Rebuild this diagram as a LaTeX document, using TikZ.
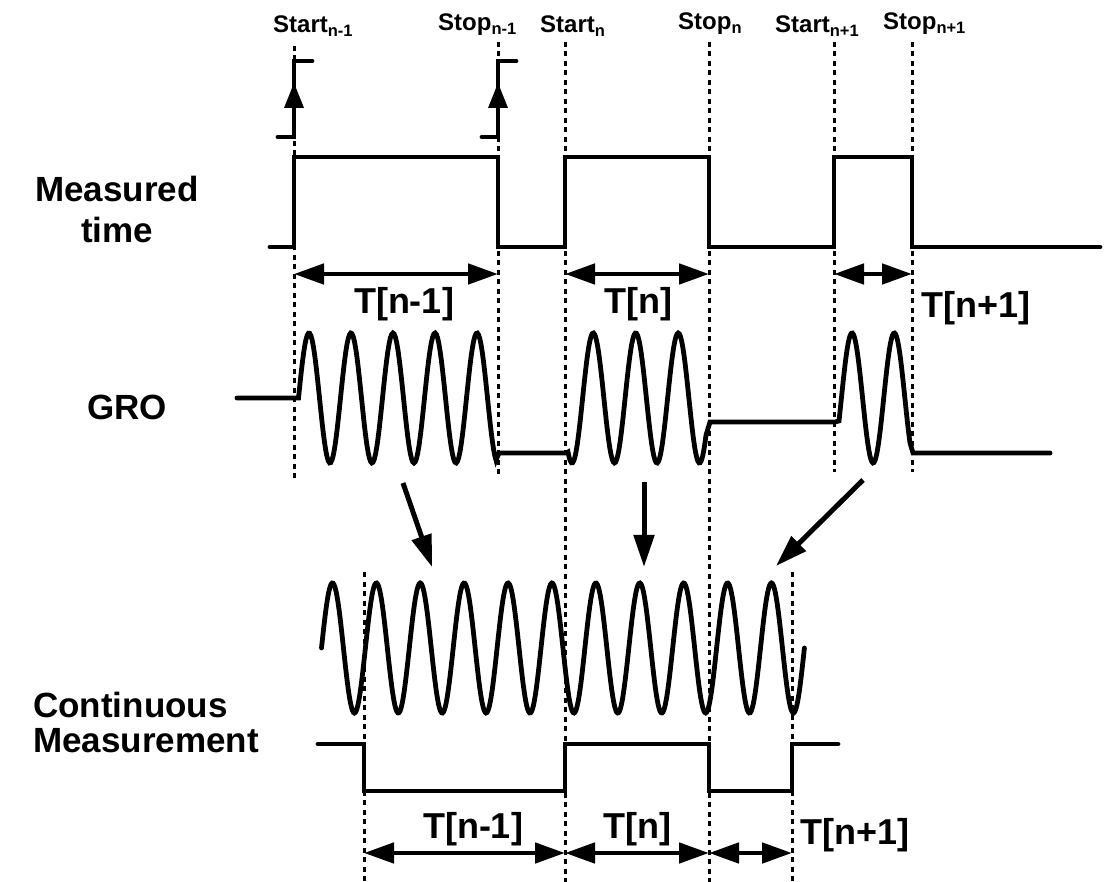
\documentclass[tikz,border=0pt]{standalone}
\usepackage{fontspec}
\setmainfont{Liberation Sans}
\usetikzlibrary{arrows.meta}
\newcommand{\mysub}[1]{\raisebox{-4pt}{\fontsize{16.5}{17}\selectfont #1}}
\begin{document}
\begin{tikzpicture}[x=1pt,y=-1pt,
  sig/.style={line width=4.8pt, line cap=round, line join=miter},
  guide/.style={line width=3pt, dash pattern=on 5pt off 4.5pt},
  dim/.style={line width=4.8pt, {Triangle[length=30pt,width=20pt]}-{Triangle[length=30pt,width=20pt]}},
  flow/.style={line width=5pt, -{Triangle[length=32pt,width=20pt]}},
  lbl/.style={font=\fontsize{35}{41}\selectfont\bfseries, inner sep=0pt},
  tlbl/.style={font=\fontsize{36}{40}\selectfont\bfseries, inner sep=0pt, anchor=base},
  tick/.style={font=\fontsize{24}{28}\selectfont\bfseries, inner sep=0pt, anchor=base west}
]
\useasboundingbox (0,0) rectangle (1104,882);

% ---- guide lines
\coordinate (a1) at (294,46);  \coordinate (a1b) at (294,480);
\coordinate (b1) at (498,42);  \coordinate (b1b) at (498,474);
\coordinate (a2) at (565,42);  \coordinate (a2b) at (565,882);
\coordinate (b2) at (709,42);  \coordinate (b2b) at (709,882);
\coordinate (a3) at (834,42);  \coordinate (a3b) at (834,472);
\coordinate (b3) at (912,42);  \coordinate (b3b) at (912,472);
\coordinate (c1) at (364,572); \coordinate (c1b) at (364,882);
\coordinate (c3) at (792,572); \coordinate (c3b) at (792,882);
\foreach \p/\q in {a1/a1b,b1/b1b,a2/a2b,b2/b2b,a3/a3b,b3/b3b,c1/c1b,c3/c3b}
  \draw[guide] (\p) -- (\q);

% ---- top labels
\node[tick] (lsa1) at (273,33) {Start\mysub{n-1}};
\node[tick] (lso1) at (438,31) {Stop\mysub{n-1}};
\node[tick] (lsa2) at (540,33) {Start\mysub{n}};
\node[tick] (lso2) at (678,30) {Stop\mysub{n}};
\node[tick] (lsa3) at (775,33) {Start\mysub{n+1}};
\node[tick] (lso3) at (883,30) {Stop\mysub{n+1}};

% ---- step icons
\draw[sig] (278,137) -- (294,137) -- (294,61) -- (312,61);
\fill (294,83) -- (284,108) -- (304,108) -- cycle;
\draw[sig] (482,137) -- (498,137) -- (498,61) -- (516,61);
\fill (498,83) -- (488,108) -- (508,108) -- cycle;

% ---- measured time
\node[lbl, align=center, anchor=base] (mt) at (117,243) {Measured\\time};
\draw[sig] (270,247) -- (294,247) -- (294,157) -- (498,157) -- (498,247)
  -- (565,247) -- (565,157) -- (709,157) -- (709,247) -- (834,247)
  -- (834,157) -- (912,157) -- (912,247) -- (1100,247);

\coordinate (d1l) at (294,274); \coordinate (d1r) at (498,274);
\coordinate (d2l) at (565,274); \coordinate (d2r) at (709,274);
\coordinate (d3l) at (834,274); \coordinate (d3r) at (912,274);
\draw[dim] (d1l) -- (d1r);
\draw[dim] (d2l) -- (d2r);
\draw[dim] (d3l) -- (d3r);
\node[tlbl] (t1) at (404,314) {T[n-1]};
\node[tlbl] (t2) at (638,314) {T[n]};
\node[tlbl] (t3) at (976,318) {T[n+1]};

% ---- GRO
\node[lbl, anchor=base] (gro) at (127,420) {GRO};
\draw[sig] (237,398) -- (296,398)
  -- plot[domain=298.5:496, samples=160] (\x, {398-65*cos(8.5714*(\x-309))})
  -- (499,453) -- (566,453)
  -- plot[domain=568:706, samples=120] (\x, {398+65*cos(8.4706*(\x-572))})
  -- (710,422) -- (835,422)
  -- plot[domain=839:910, samples=70] (\x, {398-65*cos(8.5106*(\x-852))})
  -- (913,453) -- (1050,453);

% ---- flow arrows
\coordinate (f1s) at (403,483); \coordinate (f1e) at (432,567);
\coordinate (f2s) at (644,482); \coordinate (f2e) at (644,567);
\coordinate (f3s) at (863,480); \coordinate (f3e) at (776,566);
\draw[flow] (f1s) -- (f1e);
\draw[flow] (f2s) -- (f2e);
\draw[flow] (f3s) -- (f3e);

% ---- continuous
\draw[sig] plot[domain=321.5:804.4, samples=500] (\x, {648-65*sin(8.2005*(\x-321.5))});
\node[lbl, align=left, anchor=base west, font=\fontsize{35}{35}\selectfont\bfseries] (cm) at (33,752) {Continuous\\Measurement};
\draw[sig] (318,744) -- (364,744) -- (364,791) -- (565,791) -- (565,744)
  -- (709,744) -- (709,791) -- (792,791) -- (792,744) -- (838,744);

\coordinate (e1l) at (364,853); \coordinate (e1r) at (565,853);
\coordinate (e2l) at (565,853); \coordinate (e2r) at (709,853);
\coordinate (e3l) at (709,853); \coordinate (e3r) at (792,853);
\draw[dim] (e1l) -- (e1r);
\draw[dim] (e2l) -- (e2r);
\draw[dim] (e3l) -- (e3r);
\node[tlbl] (u1) at (473,838) {T[n-1]};
\node[tlbl] (u2) at (637,838) {T[n]};
\node[tlbl] (u3) at (855,844) {T[n+1]};
\end{tikzpicture}
\end{document}
